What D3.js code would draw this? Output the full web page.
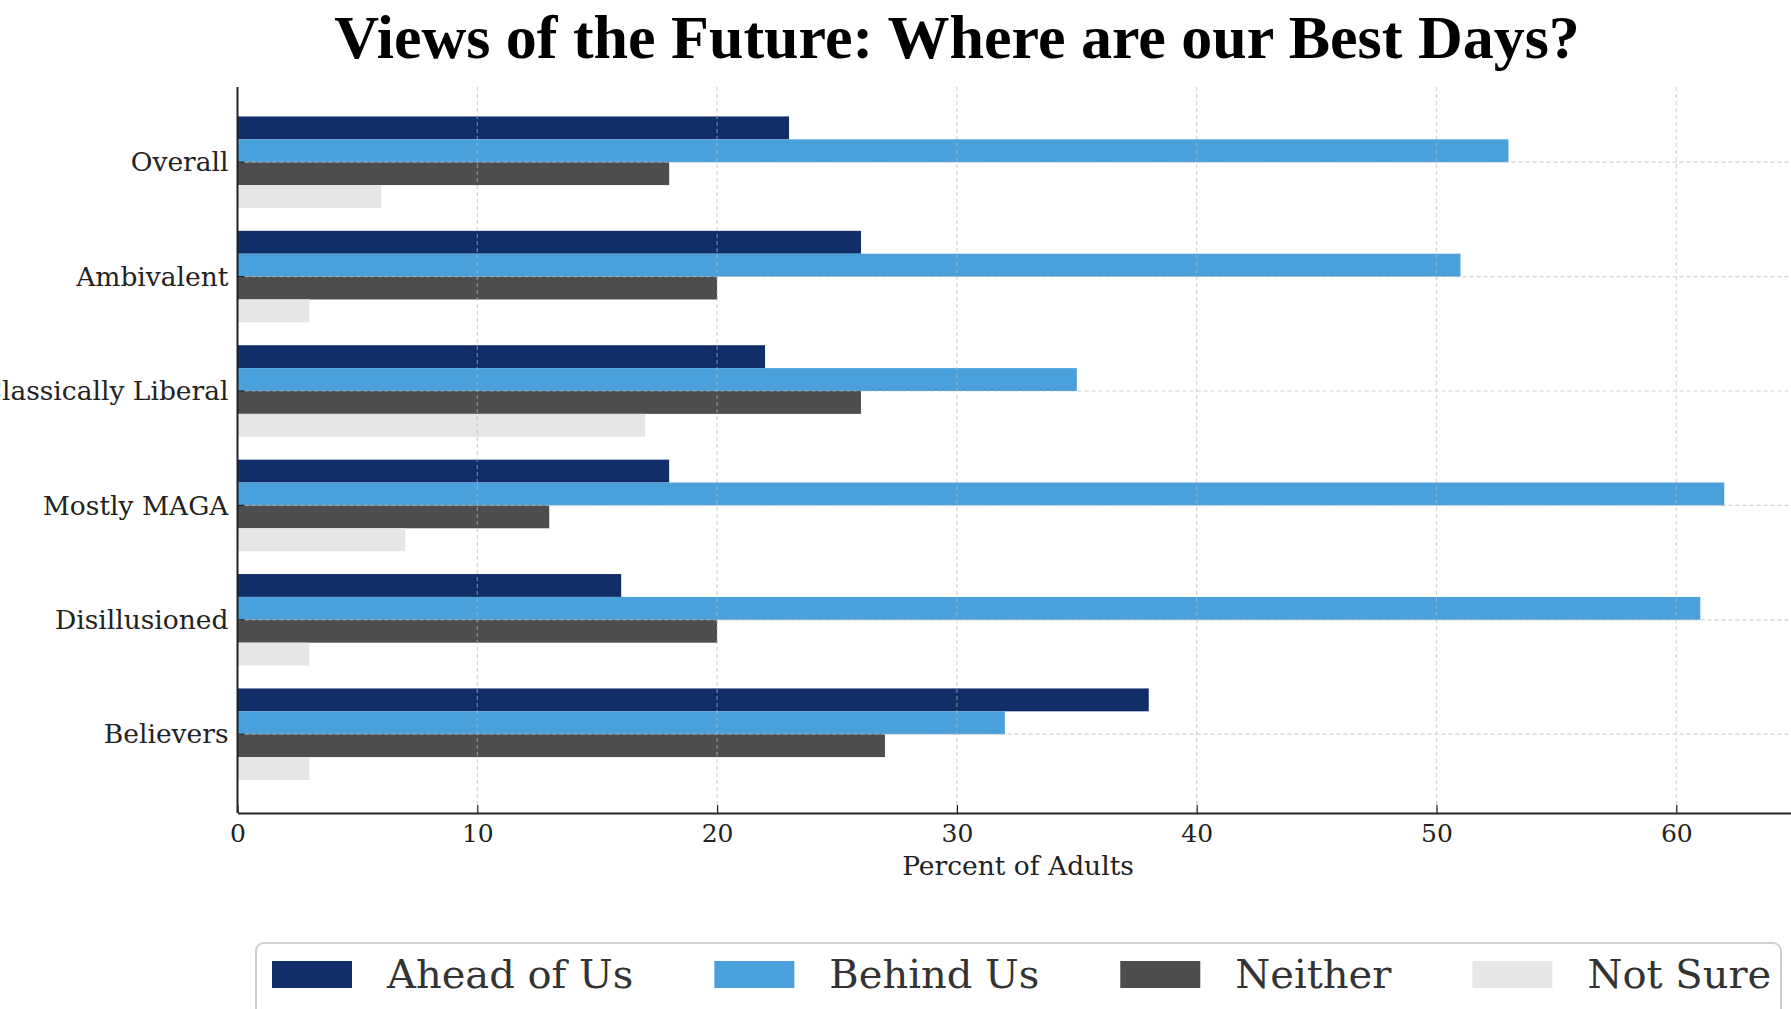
<!DOCTYPE html>
<html>
<head>
<meta charset="utf-8">
<script src="https://cdn.jsdelivr.net/npm/d3@7"></script>
<style>
  html, body { margin: 0; padding: 0; background: #fff; overflow: hidden; }
  svg { display: block; }
</style>
</head>
<body>
<svg id="chart" width="1791" height="1009"></svg>
<script>
const categories = ["Overall", "Ambivalent", "Classically Liberal", "Mostly MAGA", "Disillusioned", "Believers"];
const seriesNames = ["Ahead of Us", "Behind Us", "Neither", "Not Sure"];
const aheadOfUs = [23, 26, 22, 18, 16, 38];
const behindUs  = [53, 51, 35, 62, 61, 32];
const neither   = [18, 20, 26, 13, 20, 27];
const notSure   = [6, 3, 17, 7, 3, 3];
const xTicks = [0, 10, 20, 30, 40, 50, 60];
const colors = ["#122e68", "#49a0db", "#4d4d4f", "#e6e6e6"];

const seriesValues = [aheadOfUs, behindUs, neither, notSure];
const data = categories.map((c, i) => ({
  category: c,
  values: seriesNames.map((s, j) => ({ series: s, value: seriesValues[j][i], color: colors[j] }))
}));

const svg = d3.select("#chart");
const W = 1791, H = 1009;
const plot = { left: 237.5, right: 1798.6, top: 87, bottom: 813 };

const x = d3.scaleLinear().domain([0, 65.1]).range([plot.left, plot.right]);
const y = d3.scaleBand().domain(categories).range([105, 791.4]).paddingInner(0.2).paddingOuter(0.1);
const ySub = d3.scaleBand().domain(seriesNames).range([0, y.bandwidth()]);

const serif = "'DejaVu Serif', serif";

// Title
svg.append("text")
  .attr("x", 957).attr("y", 58)
  .attr("text-anchor", "middle")
  .style("font-family", "'Liberation Serif', 'Times New Roman', serif")
  .style("font-weight", "bold")
  .style("font-size", "62px")
  .style("fill", "#000")
  .text("Views of the Future: Where are our Best Days?");

// Bars
const groups = svg.append("g").selectAll("g.cat")
  .data(data).join("g")
  .attr("class", "cat")
  .attr("transform", d => `translate(0,${y(d.category)})`);

groups.selectAll("rect")
  .data(d => d.values).join("rect")
  .attr("x", x(0))
  .attr("y", d => ySub(d.series))
  .attr("height", ySub.bandwidth())
  .attr("width", d => x(d.value) - x(0))
  .attr("fill", d => d.color);

// Grid (drawn on top, faint dashed)
const grid = svg.append("g").attr("opacity", 0.6);
grid.selectAll("line.vx")
  .data(xTicks.filter(t => t > 0)).join("line")
  .attr("x1", d => x(d)).attr("x2", d => x(d))
  .attr("y1", plot.top).attr("y2", plot.bottom)
  .attr("stroke", "#b8b8b8").attr("stroke-width", 1.2)
  .attr("stroke-dasharray", "4,3");
grid.selectAll("line.hy")
  .data(categories).join("line")
  .attr("x1", plot.left).attr("x2", W)
  .attr("y1", d => y(d) + y.bandwidth() / 2).attr("y2", d => y(d) + y.bandwidth() / 2)
  .attr("stroke", "#b8b8b8").attr("stroke-width", 1.2)
  .attr("stroke-dasharray", "4,3");

// X axis
const xAxis = d3.axisBottom(x).tickValues(xTicks).tickFormat(d3.format("d")).tickSizeInner(-8).tickSizeOuter(0).tickPadding(12);
const gx = svg.append("g").attr("transform", `translate(0,${plot.bottom})`).call(xAxis);
gx.select(".domain").attr("stroke", "#222").attr("stroke-width", 2);
gx.selectAll(".tick line").attr("stroke", "#222").attr("stroke-width", 1.2);
gx.selectAll(".tick text")
  .style("font-family", serif).style("font-size", "25px").style("fill", "#222")
  .attr("dy", null).attr("y", 29);

// Y axis
const yAxis = d3.axisLeft(y).tickSizeInner(-7).tickSizeOuter(0).tickPadding(9);
const gy = svg.append("g").attr("transform", `translate(${plot.left},0)`).call(yAxis);
gy.select(".domain").remove();
gy.selectAll(".tick line").attr("stroke", "#222").attr("stroke-width", 1.2);
gy.selectAll(".tick text")
  .style("font-family", serif).style("font-size", "26.5px").style("fill", "#222")
  .attr("dy", "0.35em");

// Left spine
svg.append("line")
  .attr("x1", plot.left).attr("x2", plot.left)
  .attr("y1", plot.top).attr("y2", plot.bottom)
  .attr("stroke", "#222").attr("stroke-width", 2);

// X label
svg.append("text")
  .attr("x", (plot.left + plot.right) / 2).attr("y", 875)
  .attr("text-anchor", "middle")
  .style("font-family", serif).style("font-size", "26.5px").style("fill", "#222")
  .text("Percent of Adults");

// Legend
const legend = svg.append("g");
legend.append("rect")
  .attr("x", 256).attr("y", 943)
  .attr("width", 1781 - 256).attr("height", 100)
  .attr("rx", 8).attr("ry", 8)
  .attr("fill", "#fff").attr("stroke", "#cfcfcf").attr("stroke-width", 2);

let lx = 272;
seriesNames.forEach((s, i) => {
  legend.append("rect")
    .attr("x", lx).attr("y", 961)
    .attr("width", 80).attr("height", 27)
    .attr("fill", colors[i]);
  const t = legend.append("text")
    .attr("x", lx + 115).attr("y", 988)
    .style("font-family", serif).style("font-size", "40px").style("fill", "#333")
    .text(s);
  lx = lx + 115 + t.node().getComputedTextLength() + 81;
});
</script>
</body>
</html>
